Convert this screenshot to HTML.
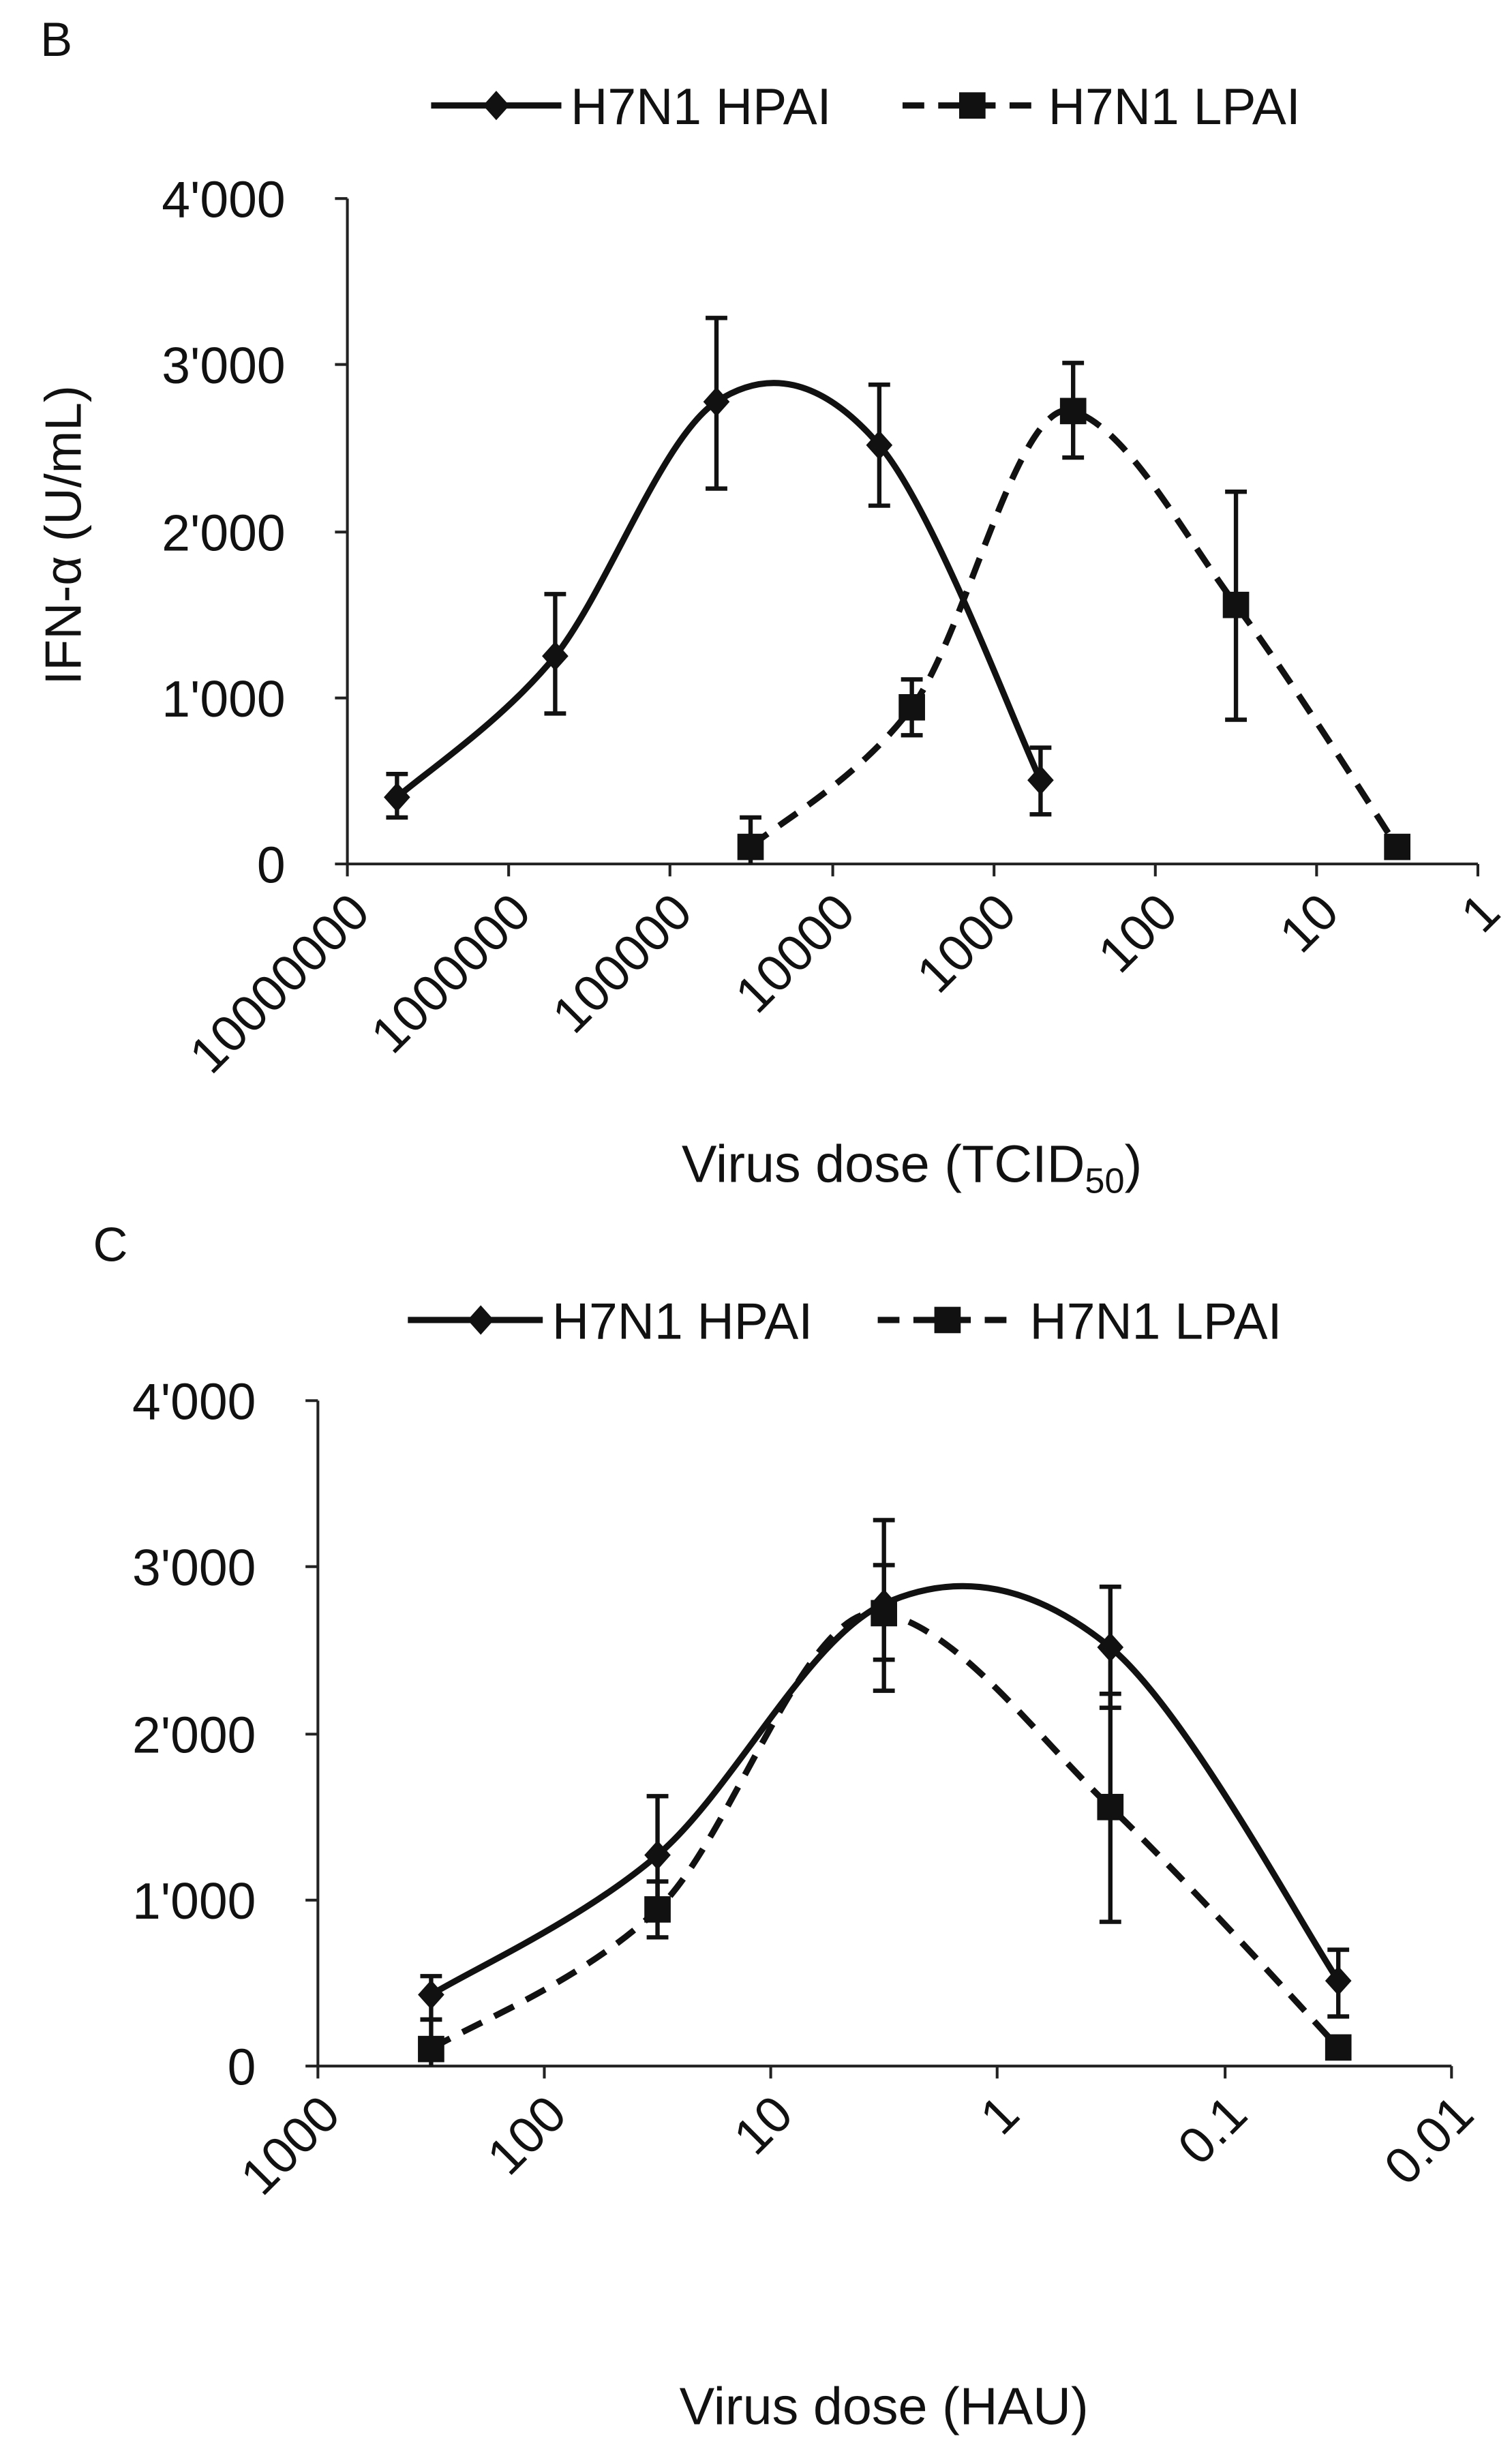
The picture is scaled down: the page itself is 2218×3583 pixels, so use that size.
<!DOCTYPE html>
<html><head><meta charset="utf-8"><style>
html,body{margin:0;padding:0;background:#fff;}
svg{display:block;}
text{font-family:"Liberation Sans",sans-serif;fill:#111;}
</style></head><body>
<svg width="2218" height="3583" viewBox="0 0 975 1575" preserveAspectRatio="none" xmlns="http://www.w3.org/2000/svg">
<defs>
<g id="dia"><path d="M0,-9.5 L8.5,0 L0,9.5 L-8.5,0 Z" fill="#111"/></g>
<g id="sq"><rect x="-8.5" y="-8.5" width="17" height="17" fill="#111"/></g>
</defs>

<!-- ===== Chart B ===== -->
<text x="26" y="36" font-size="31">B</text>
<line x1="278" y1="68" x2="362" y2="68" stroke="#111" stroke-width="4"/>
<use href="#dia" x="320" y="68"/>
<text x="368" y="80" font-size="33">H7N1 HPAI</text>
<line x1="582" y1="68" x2="668" y2="68" stroke="#111" stroke-width="4" stroke-dasharray="14,9"/>
<use href="#sq" x="627" y="68"/>
<text x="676" y="80" font-size="33">H7N1 LPAI</text>

<g stroke="#222" stroke-width="1.8" fill="none">
<line x1="224" y1="128" x2="224" y2="557"/>
<line x1="224" y1="557" x2="953" y2="557"/>
<line x1="216" y1="128" x2="224" y2="128"/>
<line x1="216" y1="235" x2="224" y2="235"/>
<line x1="216" y1="343" x2="224" y2="343"/>
<line x1="216" y1="450" x2="224" y2="450"/>
<line x1="216" y1="557" x2="224" y2="557"/>
<line x1="224" y1="557" x2="224" y2="565"/>
<line x1="328" y1="557" x2="328" y2="565"/>
<line x1="432" y1="557" x2="432" y2="565"/>
<line x1="537" y1="557" x2="537" y2="565"/>
<line x1="641" y1="557" x2="641" y2="565"/>
<line x1="745" y1="557" x2="745" y2="565"/>
<line x1="849" y1="557" x2="849" y2="565"/>
<line x1="953" y1="557" x2="953" y2="565"/>
</g>
<g font-size="33" text-anchor="end">
<text x="184" y="140">4'000</text>
<text x="184" y="247">3'000</text>
<text x="184" y="355">2'000</text>
<text x="184" y="462">1'000</text>
<text x="184" y="569">0</text>
</g>
<g font-size="33" text-anchor="end">
<text transform="translate(240,590) rotate(-45)">10000000</text>
<text transform="translate(344,590) rotate(-45)">1000000</text>
<text transform="translate(448,590) rotate(-45)">100000</text>
<text transform="translate(553,590) rotate(-45)">10000</text>
<text transform="translate(657,590) rotate(-45)">1000</text>
<text transform="translate(761,590) rotate(-45)">100</text>
<text transform="translate(865,590) rotate(-45)">10</text>
<text transform="translate(969,590) rotate(-45)">1</text>
</g>
<text transform="translate(52,345) rotate(-90)" font-size="33" text-anchor="middle">IFN-α (U/mL)</text>
<text x="588" y="762" font-size="34" text-anchor="middle">Virus dose (TCID<tspan font-size="23" dy="7">50</tspan><tspan dy="-7">)</tspan></text>

<path d="M256,514 C273,499 324,465 358,423 C392,380 427,282 462,259 C497,236 532,246 567,287 C602,328 654,467 671,503" stroke="#111" stroke-width="4" fill="none"/>
<path d="M484,546 C501,531 553,503 588,456 C623,409 657,254 692,265 C727,276 762,343 797,390 C832,437 884,520 901,546" stroke="#111" stroke-width="4" fill="none" stroke-dasharray="14,9"/>
<g stroke="#111" stroke-width="2.8">
<path d="M256,527V499M249,527h14M249,499h14"/>
<path d="M358,460V383M351,460h14M351,383h14"/>
<path d="M462,315V205M455,315h14M455,205h14"/>
<path d="M567,326V248M560,326h14M560,248h14"/>
<path d="M671,525V482M664,525h14M664,482h14"/>
<path d="M484,557V527M477,527h14"/>
<path d="M588,474V438M581,474h14M581,438h14"/>
<path d="M692,295V234M685,295h14M685,234h14"/>
<path d="M797,464V317M790,464h14M790,317h14"/>
</g>
<use href="#dia" x="256" y="514"/><use href="#dia" x="358" y="423"/><use href="#dia" x="462" y="259"/><use href="#dia" x="567" y="287"/><use href="#dia" x="671" y="503"/>
<use href="#sq" x="484" y="546"/><use href="#sq" x="588" y="456"/><use href="#sq" x="692" y="265"/><use href="#sq" x="797" y="390"/><use href="#sq" x="901" y="546"/>

<!-- ===== Chart C ===== -->
<text x="60" y="813" font-size="31">C</text>
<line x1="263" y1="851" x2="350" y2="851" stroke="#111" stroke-width="4"/>
<use href="#dia" x="310" y="851"/>
<text x="356" y="863" font-size="33">H7N1 HPAI</text>
<line x1="566" y1="851" x2="656" y2="851" stroke="#111" stroke-width="4" stroke-dasharray="14,9"/>
<use href="#sq" x="611" y="851"/>
<text x="664" y="863" font-size="33">H7N1 LPAI</text>

<g stroke="#222" stroke-width="1.8" fill="none">
<line x1="205" y1="903" x2="205" y2="1332"/>
<line x1="205" y1="1332" x2="936" y2="1332"/>
<line x1="197" y1="903" x2="205" y2="903"/>
<line x1="197" y1="1010" x2="205" y2="1010"/>
<line x1="197" y1="1118" x2="205" y2="1118"/>
<line x1="197" y1="1225" x2="205" y2="1225"/>
<line x1="197" y1="1332" x2="205" y2="1332"/>
<line x1="205" y1="1332" x2="205" y2="1340"/>
<line x1="351" y1="1332" x2="351" y2="1340"/>
<line x1="497" y1="1332" x2="497" y2="1340"/>
<line x1="643" y1="1332" x2="643" y2="1340"/>
<line x1="790" y1="1332" x2="790" y2="1340"/>
<line x1="936" y1="1332" x2="936" y2="1340"/>
</g>
<g font-size="33" text-anchor="end">
<text x="165" y="915">4'000</text>
<text x="165" y="1022">3'000</text>
<text x="165" y="1130">2'000</text>
<text x="165" y="1237">1'000</text>
<text x="165" y="1344">0</text>
</g>
<g font-size="33" text-anchor="end">
<text transform="translate(221,1365) rotate(-45)">1000</text>
<text transform="translate(367,1365) rotate(-45)">100</text>
<text transform="translate(513,1365) rotate(-45)">10</text>
<text transform="translate(659,1365) rotate(-45)">1</text>
<text transform="translate(806,1365) rotate(-45)">0.1</text>
<text transform="translate(952,1365) rotate(-45)">0.01</text>
</g>
<text x="570" y="1563" font-size="34" text-anchor="middle">Virus dose (HAU)</text>

<path d="M278,1286 C302,1271 375,1238 424,1196 C473,1154 521,1056 570,1034 C619,1012 667,1022 716,1062 C765,1103 839,1241 863,1277" stroke="#111" stroke-width="4" fill="none"/>
<path d="M278,1321 C302,1306 375,1278 424,1231 C473,1184 521,1029 570,1040 C619,1051 667,1118 716,1165 C765,1212 839,1294 863,1320" stroke="#111" stroke-width="4" fill="none" stroke-dasharray="14,9"/>
<g stroke="#111" stroke-width="2.8">
<path d="M278,1302V1274M271,1302h14M271,1274h14"/>
<path d="M424,1235V1158M417,1235h14M417,1158h14"/>
<path d="M570,1090V980M563,1090h14M563,980h14"/>
<path d="M716,1101V1023M709,1101h14M709,1023h14"/>
<path d="M863,1300V1257M856,1300h14M856,1257h14"/>
<path d="M278,1332V1302M271,1302h14"/>
<path d="M424,1249V1213M417,1249h14M417,1213h14"/>
<path d="M570,1070V1009M563,1070h14M563,1009h14"/>
<path d="M716,1239V1092M709,1239h14M709,1092h14"/>
</g>
<use href="#dia" x="278" y="1286"/><use href="#dia" x="424" y="1196"/><use href="#dia" x="570" y="1034"/><use href="#dia" x="716" y="1062"/><use href="#dia" x="863" y="1277"/>
<use href="#sq" x="278" y="1321"/><use href="#sq" x="424" y="1231"/><use href="#sq" x="570" y="1040"/><use href="#sq" x="716" y="1165"/><use href="#sq" x="863" y="1320"/>
</svg>
</body></html>
